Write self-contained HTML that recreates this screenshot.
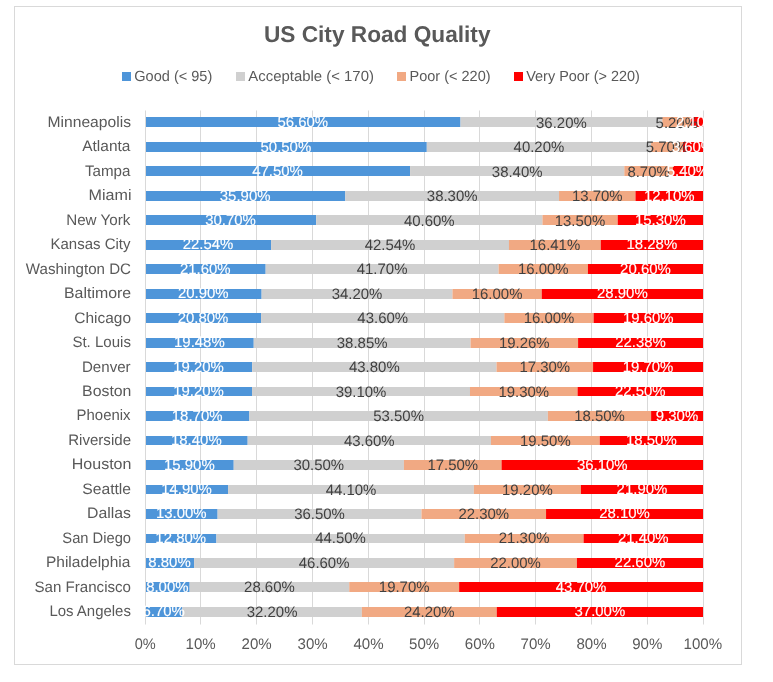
<!DOCTYPE html><html><head><meta charset="utf-8"><style>html,body{margin:0;padding:0;background:#fff;}svg{display:block;will-change:transform;}</style></head><body>
<svg width="773" height="682" viewBox="0 0 773 682" font-family='"Liberation Sans", sans-serif' text-rendering="geometricPrecision">
<rect x="14.5" y="6.5" width="727" height="658" fill="#fff" stroke="#D9D9D9" stroke-width="1"/>
<text x="263.94" y="42.00" font-size="22.8" font-weight="bold" fill="#595959" textLength="226.58" lengthAdjust="spacingAndGlyphs">US City Road Quality</text>
<rect x="122" y="72" width="9" height="9" fill="#4E95D9"/>
<text x="134.27" y="81.00" font-size="14.7" fill="#595959" textLength="78.03" lengthAdjust="spacingAndGlyphs">Good (&lt; 95)</text>
<rect x="236" y="72" width="9" height="9" fill="#D0D0D0"/>
<text x="248.37" y="81.00" font-size="14.7" fill="#595959" textLength="125.55" lengthAdjust="spacingAndGlyphs">Acceptable (&lt; 170)</text>
<rect x="397" y="72" width="9" height="9" fill="#F1A983"/>
<text x="409.51" y="81.00" font-size="14.7" fill="#595959" textLength="81.09" lengthAdjust="spacingAndGlyphs">Poor (&lt; 220)</text>
<rect x="514" y="72" width="9" height="9" fill="#FF0000"/>
<text x="526.24" y="81.00" font-size="14.7" fill="#595959" textLength="113.65" lengthAdjust="spacingAndGlyphs">Very Poor (&gt; 220)</text>
<rect x="145" y="110.5" width="1" height="514" fill="#D9D9D9"/>
<rect x="200" y="110.5" width="1" height="514" fill="#D9D9D9"/>
<rect x="256" y="110.5" width="1" height="514" fill="#D9D9D9"/>
<rect x="312" y="110.5" width="1" height="514" fill="#D9D9D9"/>
<rect x="368" y="110.5" width="1" height="514" fill="#D9D9D9"/>
<rect x="424" y="110.5" width="1" height="514" fill="#D9D9D9"/>
<rect x="479" y="110.5" width="1" height="514" fill="#D9D9D9"/>
<rect x="535" y="110.5" width="1" height="514" fill="#D9D9D9"/>
<rect x="591" y="110.5" width="1" height="514" fill="#D9D9D9"/>
<rect x="647" y="110.5" width="1" height="514" fill="#D9D9D9"/>
<rect x="703" y="110.5" width="1" height="514" fill="#D9D9D9"/>
<rect x="146.00" y="117.00" width="314.51" height="10" fill="#4E95D9"/>
<rect x="460.51" y="117.00" width="201.79" height="10" fill="#D0D0D0"/>
<rect x="662.31" y="117.00" width="28.99" height="10" fill="#F1A983"/>
<rect x="691.29" y="117.00" width="11.71" height="10" fill="#FF0000"/>
<rect x="146.00" y="142.00" width="280.79" height="10" fill="#4E95D9"/>
<rect x="426.79" y="142.00" width="224.32" height="10" fill="#D0D0D0"/>
<rect x="651.11" y="142.00" width="31.81" height="10" fill="#F1A983"/>
<rect x="682.91" y="142.00" width="20.09" height="10" fill="#FF0000"/>
<rect x="146.00" y="166.00" width="264.05" height="10" fill="#4E95D9"/>
<rect x="410.05" y="166.00" width="214.27" height="10" fill="#D0D0D0"/>
<rect x="624.32" y="166.00" width="48.55" height="10" fill="#F1A983"/>
<rect x="672.87" y="166.00" width="30.13" height="10" fill="#FF0000"/>
<rect x="146.00" y="191.00" width="199.32" height="10" fill="#4E95D9"/>
<rect x="345.32" y="191.00" width="213.71" height="10" fill="#D0D0D0"/>
<rect x="559.04" y="191.00" width="76.45" height="10" fill="#F1A983"/>
<rect x="635.48" y="191.00" width="67.52" height="10" fill="#FF0000"/>
<rect x="146.00" y="215.00" width="170.13" height="10" fill="#4E95D9"/>
<rect x="316.13" y="215.00" width="226.32" height="10" fill="#D0D0D0"/>
<rect x="542.46" y="215.00" width="75.25" height="10" fill="#F1A983"/>
<rect x="617.71" y="215.00" width="85.29" height="10" fill="#FF0000"/>
<rect x="146.00" y="240.00" width="125.06" height="10" fill="#4E95D9"/>
<rect x="271.06" y="240.00" width="237.92" height="10" fill="#D0D0D0"/>
<rect x="508.98" y="240.00" width="91.78" height="10" fill="#F1A983"/>
<rect x="600.76" y="240.00" width="102.24" height="10" fill="#FF0000"/>
<rect x="146.00" y="264.00" width="119.65" height="10" fill="#4E95D9"/>
<rect x="265.65" y="264.00" width="232.92" height="10" fill="#D0D0D0"/>
<rect x="498.57" y="264.00" width="89.37" height="10" fill="#F1A983"/>
<rect x="587.94" y="264.00" width="115.06" height="10" fill="#FF0000"/>
<rect x="146.00" y="289.00" width="115.62" height="10" fill="#4E95D9"/>
<rect x="261.62" y="289.00" width="190.84" height="10" fill="#D0D0D0"/>
<rect x="452.46" y="289.00" width="89.28" height="10" fill="#F1A983"/>
<rect x="541.74" y="289.00" width="161.26" height="10" fill="#FF0000"/>
<rect x="146.00" y="313.00" width="115.06" height="10" fill="#4E95D9"/>
<rect x="261.06" y="313.00" width="243.29" height="10" fill="#D0D0D0"/>
<rect x="504.35" y="313.00" width="89.28" height="10" fill="#F1A983"/>
<rect x="593.63" y="313.00" width="109.37" height="10" fill="#FF0000"/>
<rect x="146.00" y="338.00" width="107.73" height="10" fill="#4E95D9"/>
<rect x="253.73" y="338.00" width="216.85" height="10" fill="#D0D0D0"/>
<rect x="470.58" y="338.00" width="107.50" height="10" fill="#F1A983"/>
<rect x="578.08" y="338.00" width="124.92" height="10" fill="#FF0000"/>
<rect x="146.00" y="362.00" width="106.14" height="10" fill="#4E95D9"/>
<rect x="252.14" y="362.00" width="244.40" height="10" fill="#D0D0D0"/>
<rect x="496.54" y="362.00" width="96.53" height="10" fill="#F1A983"/>
<rect x="593.07" y="362.00" width="109.93" height="10" fill="#FF0000"/>
<rect x="146.00" y="387.00" width="106.03" height="9" fill="#4E95D9"/>
<rect x="252.03" y="387.00" width="217.96" height="9" fill="#D0D0D0"/>
<rect x="469.99" y="387.00" width="107.59" height="9" fill="#F1A983"/>
<rect x="577.58" y="387.00" width="125.42" height="9" fill="#FF0000"/>
<rect x="146.00" y="411.00" width="103.35" height="10" fill="#4E95D9"/>
<rect x="249.35" y="411.00" width="298.53" height="10" fill="#D0D0D0"/>
<rect x="547.88" y="411.00" width="103.23" height="10" fill="#F1A983"/>
<rect x="651.11" y="411.00" width="51.89" height="10" fill="#FF0000"/>
<rect x="146.00" y="436.00" width="101.67" height="9" fill="#4E95D9"/>
<rect x="247.67" y="436.00" width="243.29" height="9" fill="#D0D0D0"/>
<rect x="490.96" y="436.00" width="108.81" height="9" fill="#F1A983"/>
<rect x="599.77" y="436.00" width="103.23" height="9" fill="#FF0000"/>
<rect x="146.00" y="460.00" width="87.72" height="10" fill="#4E95D9"/>
<rect x="233.72" y="460.00" width="170.19" height="10" fill="#D0D0D0"/>
<rect x="403.91" y="460.00" width="97.65" height="10" fill="#F1A983"/>
<rect x="501.56" y="460.00" width="201.44" height="10" fill="#FF0000"/>
<rect x="146.00" y="485.00" width="82.06" height="9" fill="#4E95D9"/>
<rect x="228.06" y="485.00" width="245.83" height="9" fill="#D0D0D0"/>
<rect x="473.89" y="485.00" width="107.03" height="9" fill="#F1A983"/>
<rect x="580.92" y="485.00" width="122.08" height="9" fill="#FF0000"/>
<rect x="146.00" y="509.00" width="71.61" height="10" fill="#4E95D9"/>
<rect x="217.61" y="509.00" width="203.87" height="10" fill="#D0D0D0"/>
<rect x="421.49" y="509.00" width="124.56" height="10" fill="#F1A983"/>
<rect x="546.05" y="509.00" width="156.95" height="10" fill="#FF0000"/>
<rect x="146.00" y="534.00" width="70.42" height="9" fill="#4E95D9"/>
<rect x="216.42" y="534.00" width="248.31" height="9" fill="#D0D0D0"/>
<rect x="464.73" y="534.00" width="118.85" height="9" fill="#F1A983"/>
<rect x="583.59" y="534.00" width="119.41" height="9" fill="#FF0000"/>
<rect x="146.00" y="558.00" width="48.10" height="10" fill="#4E95D9"/>
<rect x="194.10" y="558.00" width="260.03" height="10" fill="#D0D0D0"/>
<rect x="454.13" y="558.00" width="122.76" height="10" fill="#F1A983"/>
<rect x="576.89" y="558.00" width="126.11" height="10" fill="#FF0000"/>
<rect x="146.00" y="582.00" width="43.64" height="10" fill="#4E95D9"/>
<rect x="189.64" y="582.00" width="159.59" height="10" fill="#D0D0D0"/>
<rect x="349.23" y="582.00" width="109.93" height="10" fill="#F1A983"/>
<rect x="459.15" y="582.00" width="243.85" height="10" fill="#FF0000"/>
<rect x="146.00" y="607.00" width="36.35" height="10" fill="#4E95D9"/>
<rect x="182.35" y="607.00" width="179.50" height="10" fill="#D0D0D0"/>
<rect x="361.85" y="607.00" width="134.90" height="10" fill="#F1A983"/>
<rect x="496.75" y="607.00" width="206.25" height="10" fill="#FF0000"/>
<text x="302.76" y="127.20" text-anchor="middle" font-size="15.1" fill="#FFFFFF" stroke="#FFFFFF" stroke-width="0.15" textLength="50.70" lengthAdjust="spacingAndGlyphs">56.60%</text>
<text x="561.41" y="127.70" text-anchor="middle" font-size="15.1" fill="#404040" stroke="#404040" stroke-width="0" textLength="50.70" lengthAdjust="spacingAndGlyphs">36.20%</text>
<text x="676.80" y="127.70" text-anchor="middle" font-size="15.1" fill="#404040" stroke="#404040" stroke-width="0" textLength="42.39" lengthAdjust="spacingAndGlyphs">5.20%</text>
<text x="697.15" y="127.20" text-anchor="middle" font-size="15.1" fill="#FFFFFF" stroke="#FFFFFF" stroke-width="0.15" textLength="42.39" lengthAdjust="spacingAndGlyphs">2.10%</text>
<text x="285.89" y="151.66" text-anchor="middle" font-size="15.1" fill="#FFFFFF" stroke="#FFFFFF" stroke-width="0.15" textLength="50.70" lengthAdjust="spacingAndGlyphs">50.50%</text>
<text x="538.95" y="152.16" text-anchor="middle" font-size="15.1" fill="#404040" stroke="#404040" stroke-width="0" textLength="50.70" lengthAdjust="spacingAndGlyphs">40.20%</text>
<text x="667.01" y="152.16" text-anchor="middle" font-size="15.1" fill="#404040" stroke="#404040" stroke-width="0" textLength="42.39" lengthAdjust="spacingAndGlyphs">5.70%</text>
<text x="692.96" y="151.66" text-anchor="middle" font-size="15.1" fill="#FFFFFF" stroke="#FFFFFF" stroke-width="0.15" textLength="42.39" lengthAdjust="spacingAndGlyphs">3.60%</text>
<text x="277.52" y="176.11" text-anchor="middle" font-size="15.1" fill="#FFFFFF" stroke="#FFFFFF" stroke-width="0.15" textLength="50.70" lengthAdjust="spacingAndGlyphs">47.50%</text>
<text x="517.19" y="176.61" text-anchor="middle" font-size="15.1" fill="#404040" stroke="#404040" stroke-width="0" textLength="50.70" lengthAdjust="spacingAndGlyphs">38.40%</text>
<text x="648.60" y="176.61" text-anchor="middle" font-size="15.1" fill="#404040" stroke="#404040" stroke-width="0" textLength="42.39" lengthAdjust="spacingAndGlyphs">8.70%</text>
<text x="687.93" y="176.11" text-anchor="middle" font-size="15.1" fill="#FFFFFF" stroke="#FFFFFF" stroke-width="0.15" textLength="42.39" lengthAdjust="spacingAndGlyphs">5.40%</text>
<text x="245.16" y="200.56" text-anchor="middle" font-size="15.1" fill="#FFFFFF" stroke="#FFFFFF" stroke-width="0.15" textLength="50.70" lengthAdjust="spacingAndGlyphs">35.90%</text>
<text x="452.18" y="201.06" text-anchor="middle" font-size="15.1" fill="#404040" stroke="#404040" stroke-width="0" textLength="50.70" lengthAdjust="spacingAndGlyphs">38.30%</text>
<text x="597.26" y="201.06" text-anchor="middle" font-size="15.1" fill="#404040" stroke="#404040" stroke-width="0" textLength="50.70" lengthAdjust="spacingAndGlyphs">13.70%</text>
<text x="669.24" y="200.56" text-anchor="middle" font-size="15.1" fill="#FFFFFF" stroke="#FFFFFF" stroke-width="0.15" textLength="50.70" lengthAdjust="spacingAndGlyphs">12.10%</text>
<text x="230.57" y="225.02" text-anchor="middle" font-size="15.1" fill="#FFFFFF" stroke="#FFFFFF" stroke-width="0.15" textLength="50.70" lengthAdjust="spacingAndGlyphs">30.70%</text>
<text x="429.30" y="225.52" text-anchor="middle" font-size="15.1" fill="#404040" stroke="#404040" stroke-width="0" textLength="50.70" lengthAdjust="spacingAndGlyphs">40.60%</text>
<text x="580.08" y="225.52" text-anchor="middle" font-size="15.1" fill="#404040" stroke="#404040" stroke-width="0" textLength="50.70" lengthAdjust="spacingAndGlyphs">13.50%</text>
<text x="660.36" y="225.02" text-anchor="middle" font-size="15.1" fill="#FFFFFF" stroke="#FFFFFF" stroke-width="0.15" textLength="50.70" lengthAdjust="spacingAndGlyphs">15.30%</text>
<text x="208.03" y="249.47" text-anchor="middle" font-size="15.1" fill="#FFFFFF" stroke="#FFFFFF" stroke-width="0.15" textLength="50.70" lengthAdjust="spacingAndGlyphs">22.54%</text>
<text x="390.02" y="249.97" text-anchor="middle" font-size="15.1" fill="#404040" stroke="#404040" stroke-width="0" textLength="50.70" lengthAdjust="spacingAndGlyphs">42.54%</text>
<text x="554.87" y="249.97" text-anchor="middle" font-size="15.1" fill="#404040" stroke="#404040" stroke-width="0" textLength="50.70" lengthAdjust="spacingAndGlyphs">16.41%</text>
<text x="651.88" y="249.47" text-anchor="middle" font-size="15.1" fill="#FFFFFF" stroke="#FFFFFF" stroke-width="0.15" textLength="50.70" lengthAdjust="spacingAndGlyphs">18.28%</text>
<text x="205.32" y="273.93" text-anchor="middle" font-size="15.1" fill="#FFFFFF" stroke="#FFFFFF" stroke-width="0.15" textLength="50.70" lengthAdjust="spacingAndGlyphs">21.60%</text>
<text x="382.11" y="274.43" text-anchor="middle" font-size="15.1" fill="#404040" stroke="#404040" stroke-width="0" textLength="50.70" lengthAdjust="spacingAndGlyphs">41.70%</text>
<text x="543.25" y="274.43" text-anchor="middle" font-size="15.1" fill="#404040" stroke="#404040" stroke-width="0" textLength="50.70" lengthAdjust="spacingAndGlyphs">16.00%</text>
<text x="645.47" y="273.93" text-anchor="middle" font-size="15.1" fill="#FFFFFF" stroke="#FFFFFF" stroke-width="0.15" textLength="50.70" lengthAdjust="spacingAndGlyphs">20.60%</text>
<text x="203.31" y="298.38" text-anchor="middle" font-size="15.1" fill="#FFFFFF" stroke="#FFFFFF" stroke-width="0.15" textLength="50.70" lengthAdjust="spacingAndGlyphs">20.90%</text>
<text x="357.04" y="298.88" text-anchor="middle" font-size="15.1" fill="#404040" stroke="#404040" stroke-width="0" textLength="50.70" lengthAdjust="spacingAndGlyphs">34.20%</text>
<text x="497.10" y="298.88" text-anchor="middle" font-size="15.1" fill="#404040" stroke="#404040" stroke-width="0" textLength="50.70" lengthAdjust="spacingAndGlyphs">16.00%</text>
<text x="622.37" y="298.38" text-anchor="middle" font-size="15.1" fill="#FFFFFF" stroke="#FFFFFF" stroke-width="0.15" textLength="50.70" lengthAdjust="spacingAndGlyphs">28.90%</text>
<text x="203.03" y="322.84" text-anchor="middle" font-size="15.1" fill="#FFFFFF" stroke="#FFFFFF" stroke-width="0.15" textLength="50.70" lengthAdjust="spacingAndGlyphs">20.80%</text>
<text x="382.71" y="323.34" text-anchor="middle" font-size="15.1" fill="#404040" stroke="#404040" stroke-width="0" textLength="50.70" lengthAdjust="spacingAndGlyphs">43.60%</text>
<text x="548.99" y="323.34" text-anchor="middle" font-size="15.1" fill="#404040" stroke="#404040" stroke-width="0" textLength="50.70" lengthAdjust="spacingAndGlyphs">16.00%</text>
<text x="648.32" y="322.84" text-anchor="middle" font-size="15.1" fill="#FFFFFF" stroke="#FFFFFF" stroke-width="0.15" textLength="50.70" lengthAdjust="spacingAndGlyphs">19.60%</text>
<text x="199.37" y="347.29" text-anchor="middle" font-size="15.1" fill="#FFFFFF" stroke="#FFFFFF" stroke-width="0.15" textLength="50.70" lengthAdjust="spacingAndGlyphs">19.48%</text>
<text x="362.16" y="347.79" text-anchor="middle" font-size="15.1" fill="#404040" stroke="#404040" stroke-width="0" textLength="50.70" lengthAdjust="spacingAndGlyphs">38.85%</text>
<text x="524.33" y="347.79" text-anchor="middle" font-size="15.1" fill="#404040" stroke="#404040" stroke-width="0" textLength="50.70" lengthAdjust="spacingAndGlyphs">19.26%</text>
<text x="640.54" y="347.29" text-anchor="middle" font-size="15.1" fill="#FFFFFF" stroke="#FFFFFF" stroke-width="0.15" textLength="50.70" lengthAdjust="spacingAndGlyphs">22.38%</text>
<text x="198.57" y="371.75" text-anchor="middle" font-size="15.1" fill="#FFFFFF" stroke="#FFFFFF" stroke-width="0.15" textLength="50.70" lengthAdjust="spacingAndGlyphs">19.20%</text>
<text x="374.34" y="372.25" text-anchor="middle" font-size="15.1" fill="#404040" stroke="#404040" stroke-width="0" textLength="50.70" lengthAdjust="spacingAndGlyphs">43.80%</text>
<text x="544.81" y="372.25" text-anchor="middle" font-size="15.1" fill="#404040" stroke="#404040" stroke-width="0" textLength="50.70" lengthAdjust="spacingAndGlyphs">17.30%</text>
<text x="648.04" y="371.75" text-anchor="middle" font-size="15.1" fill="#FFFFFF" stroke="#FFFFFF" stroke-width="0.15" textLength="50.70" lengthAdjust="spacingAndGlyphs">19.70%</text>
<text x="198.51" y="396.20" text-anchor="middle" font-size="15.1" fill="#FFFFFF" stroke="#FFFFFF" stroke-width="0.15" textLength="50.70" lengthAdjust="spacingAndGlyphs">19.20%</text>
<text x="361.01" y="396.70" text-anchor="middle" font-size="15.1" fill="#404040" stroke="#404040" stroke-width="0" textLength="50.70" lengthAdjust="spacingAndGlyphs">39.10%</text>
<text x="523.78" y="396.70" text-anchor="middle" font-size="15.1" fill="#404040" stroke="#404040" stroke-width="0" textLength="50.70" lengthAdjust="spacingAndGlyphs">19.30%</text>
<text x="640.29" y="396.20" text-anchor="middle" font-size="15.1" fill="#FFFFFF" stroke="#FFFFFF" stroke-width="0.15" textLength="50.70" lengthAdjust="spacingAndGlyphs">22.50%</text>
<text x="197.17" y="420.66" text-anchor="middle" font-size="15.1" fill="#FFFFFF" stroke="#FFFFFF" stroke-width="0.15" textLength="50.70" lengthAdjust="spacingAndGlyphs">18.70%</text>
<text x="398.61" y="421.16" text-anchor="middle" font-size="15.1" fill="#404040" stroke="#404040" stroke-width="0" textLength="50.70" lengthAdjust="spacingAndGlyphs">53.50%</text>
<text x="599.49" y="421.16" text-anchor="middle" font-size="15.1" fill="#404040" stroke="#404040" stroke-width="0" textLength="50.70" lengthAdjust="spacingAndGlyphs">18.50%</text>
<text x="677.05" y="420.66" text-anchor="middle" font-size="15.1" fill="#FFFFFF" stroke="#FFFFFF" stroke-width="0.15" textLength="42.39" lengthAdjust="spacingAndGlyphs">9.30%</text>
<text x="196.34" y="445.11" text-anchor="middle" font-size="15.1" fill="#FFFFFF" stroke="#FFFFFF" stroke-width="0.15" textLength="50.70" lengthAdjust="spacingAndGlyphs">18.40%</text>
<text x="369.32" y="445.61" text-anchor="middle" font-size="15.1" fill="#404040" stroke="#404040" stroke-width="0" textLength="50.70" lengthAdjust="spacingAndGlyphs">43.60%</text>
<text x="545.37" y="445.61" text-anchor="middle" font-size="15.1" fill="#404040" stroke="#404040" stroke-width="0" textLength="50.70" lengthAdjust="spacingAndGlyphs">19.50%</text>
<text x="651.38" y="445.11" text-anchor="middle" font-size="15.1" fill="#FFFFFF" stroke="#FFFFFF" stroke-width="0.15" textLength="50.70" lengthAdjust="spacingAndGlyphs">18.50%</text>
<text x="189.36" y="469.57" text-anchor="middle" font-size="15.1" fill="#FFFFFF" stroke="#FFFFFF" stroke-width="0.15" textLength="50.70" lengthAdjust="spacingAndGlyphs">15.90%</text>
<text x="318.82" y="470.07" text-anchor="middle" font-size="15.1" fill="#404040" stroke="#404040" stroke-width="0" textLength="50.70" lengthAdjust="spacingAndGlyphs">30.50%</text>
<text x="452.74" y="470.07" text-anchor="middle" font-size="15.1" fill="#404040" stroke="#404040" stroke-width="0" textLength="50.70" lengthAdjust="spacingAndGlyphs">17.50%</text>
<text x="602.28" y="469.57" text-anchor="middle" font-size="15.1" fill="#FFFFFF" stroke="#FFFFFF" stroke-width="0.15" textLength="50.70" lengthAdjust="spacingAndGlyphs">36.10%</text>
<text x="186.53" y="494.02" text-anchor="middle" font-size="15.1" fill="#FFFFFF" stroke="#FFFFFF" stroke-width="0.15" textLength="50.70" lengthAdjust="spacingAndGlyphs">14.90%</text>
<text x="350.98" y="494.52" text-anchor="middle" font-size="15.1" fill="#404040" stroke="#404040" stroke-width="0" textLength="50.70" lengthAdjust="spacingAndGlyphs">44.10%</text>
<text x="527.41" y="494.52" text-anchor="middle" font-size="15.1" fill="#404040" stroke="#404040" stroke-width="0" textLength="50.70" lengthAdjust="spacingAndGlyphs">19.20%</text>
<text x="641.96" y="494.02" text-anchor="middle" font-size="15.1" fill="#FFFFFF" stroke="#FFFFFF" stroke-width="0.15" textLength="50.70" lengthAdjust="spacingAndGlyphs">21.90%</text>
<text x="181.31" y="518.48" text-anchor="middle" font-size="15.1" fill="#FFFFFF" stroke="#FFFFFF" stroke-width="0.15" textLength="50.70" lengthAdjust="spacingAndGlyphs">13.00%</text>
<text x="319.55" y="518.98" text-anchor="middle" font-size="15.1" fill="#404040" stroke="#404040" stroke-width="0" textLength="50.70" lengthAdjust="spacingAndGlyphs">36.50%</text>
<text x="483.77" y="518.98" text-anchor="middle" font-size="15.1" fill="#404040" stroke="#404040" stroke-width="0" textLength="50.70" lengthAdjust="spacingAndGlyphs">22.30%</text>
<text x="624.52" y="518.48" text-anchor="middle" font-size="15.1" fill="#FFFFFF" stroke="#FFFFFF" stroke-width="0.15" textLength="50.70" lengthAdjust="spacingAndGlyphs">28.10%</text>
<text x="180.71" y="542.93" text-anchor="middle" font-size="15.1" fill="#FFFFFF" stroke="#FFFFFF" stroke-width="0.15" textLength="50.70" lengthAdjust="spacingAndGlyphs">12.80%</text>
<text x="340.58" y="543.43" text-anchor="middle" font-size="15.1" fill="#404040" stroke="#404040" stroke-width="0" textLength="50.70" lengthAdjust="spacingAndGlyphs">44.50%</text>
<text x="524.16" y="543.43" text-anchor="middle" font-size="15.1" fill="#404040" stroke="#404040" stroke-width="0" textLength="50.70" lengthAdjust="spacingAndGlyphs">21.30%</text>
<text x="643.29" y="542.93" text-anchor="middle" font-size="15.1" fill="#FFFFFF" stroke="#FFFFFF" stroke-width="0.15" textLength="50.70" lengthAdjust="spacingAndGlyphs">21.40%</text>
<text x="169.55" y="567.39" text-anchor="middle" font-size="15.1" fill="#FFFFFF" stroke="#FFFFFF" stroke-width="0.15" textLength="42.39" lengthAdjust="spacingAndGlyphs">8.80%</text>
<text x="324.12" y="567.89" text-anchor="middle" font-size="15.1" fill="#404040" stroke="#404040" stroke-width="0" textLength="50.70" lengthAdjust="spacingAndGlyphs">46.60%</text>
<text x="515.51" y="567.89" text-anchor="middle" font-size="15.1" fill="#404040" stroke="#404040" stroke-width="0" textLength="50.70" lengthAdjust="spacingAndGlyphs">22.00%</text>
<text x="639.95" y="567.39" text-anchor="middle" font-size="15.1" fill="#FFFFFF" stroke="#FFFFFF" stroke-width="0.15" textLength="50.70" lengthAdjust="spacingAndGlyphs">22.60%</text>
<text x="167.32" y="591.85" text-anchor="middle" font-size="15.1" fill="#FFFFFF" stroke="#FFFFFF" stroke-width="0.15" textLength="42.39" lengthAdjust="spacingAndGlyphs">8.00%</text>
<text x="269.43" y="592.35" text-anchor="middle" font-size="15.1" fill="#404040" stroke="#404040" stroke-width="0" textLength="50.70" lengthAdjust="spacingAndGlyphs">28.60%</text>
<text x="404.19" y="592.35" text-anchor="middle" font-size="15.1" fill="#404040" stroke="#404040" stroke-width="0" textLength="50.70" lengthAdjust="spacingAndGlyphs">19.70%</text>
<text x="581.08" y="591.85" text-anchor="middle" font-size="15.1" fill="#FFFFFF" stroke="#FFFFFF" stroke-width="0.15" textLength="50.70" lengthAdjust="spacingAndGlyphs">43.70%</text>
<text x="163.67" y="616.30" text-anchor="middle" font-size="15.1" fill="#FFFFFF" stroke="#FFFFFF" stroke-width="0.15" textLength="42.39" lengthAdjust="spacingAndGlyphs">6.70%</text>
<text x="272.10" y="616.80" text-anchor="middle" font-size="15.1" fill="#404040" stroke="#404040" stroke-width="0" textLength="50.70" lengthAdjust="spacingAndGlyphs">32.20%</text>
<text x="429.30" y="616.80" text-anchor="middle" font-size="15.1" fill="#404040" stroke="#404040" stroke-width="0" textLength="50.70" lengthAdjust="spacingAndGlyphs">24.20%</text>
<text x="599.87" y="616.30" text-anchor="middle" font-size="15.1" fill="#FFFFFF" stroke="#FFFFFF" stroke-width="0.15" textLength="50.70" lengthAdjust="spacingAndGlyphs">37.00%</text>
<text x="47.52" y="126.80" font-size="15.2" fill="#595959" textLength="83.45" lengthAdjust="spacingAndGlyphs">Minneapolis</text>
<text x="82.27" y="151.27" font-size="15.2" fill="#595959" textLength="48.13" lengthAdjust="spacingAndGlyphs">Atlanta</text>
<text x="84.97" y="175.74" font-size="15.2" fill="#595959" textLength="45.43" lengthAdjust="spacingAndGlyphs">Tampa</text>
<text x="88.58" y="200.21" font-size="15.2" fill="#595959" textLength="42.90" lengthAdjust="spacingAndGlyphs">Miami</text>
<text x="66.19" y="224.68" font-size="15.2" fill="#595959" textLength="64.19" lengthAdjust="spacingAndGlyphs">New York</text>
<text x="50.57" y="249.15" font-size="15.2" fill="#595959" textLength="79.86" lengthAdjust="spacingAndGlyphs">Kansas City</text>
<text x="25.83" y="273.62" font-size="15.2" fill="#595959" textLength="105.14" lengthAdjust="spacingAndGlyphs">Washington DC</text>
<text x="64.00" y="298.09" font-size="15.2" fill="#595959" textLength="67.11" lengthAdjust="spacingAndGlyphs">Baltimore</text>
<text x="74.31" y="322.56" font-size="15.2" fill="#595959" textLength="56.73" lengthAdjust="spacingAndGlyphs">Chicago</text>
<text x="72.42" y="347.03" font-size="15.2" fill="#595959" textLength="58.53" lengthAdjust="spacingAndGlyphs">St. Louis</text>
<text x="81.96" y="371.50" font-size="15.2" fill="#595959" textLength="48.69" lengthAdjust="spacingAndGlyphs">Denver</text>
<text x="82.10" y="395.97" font-size="15.2" fill="#595959" textLength="49.33" lengthAdjust="spacingAndGlyphs">Boston</text>
<text x="76.57" y="420.44" font-size="15.2" fill="#595959" textLength="53.99" lengthAdjust="spacingAndGlyphs">Phoenix</text>
<text x="68.16" y="444.91" font-size="15.2" fill="#595959" textLength="62.91" lengthAdjust="spacingAndGlyphs">Riverside</text>
<text x="71.79" y="469.38" font-size="15.2" fill="#595959" textLength="59.65" lengthAdjust="spacingAndGlyphs">Houston</text>
<text x="82.19" y="493.85" font-size="15.2" fill="#595959" textLength="48.91" lengthAdjust="spacingAndGlyphs">Seattle</text>
<text x="87.00" y="518.32" font-size="15.2" fill="#595959" textLength="43.97" lengthAdjust="spacingAndGlyphs">Dallas</text>
<text x="62.33" y="542.79" font-size="15.2" fill="#595959" textLength="68.69" lengthAdjust="spacingAndGlyphs">San Diego</text>
<text x="45.93" y="567.26" font-size="15.2" fill="#595959" textLength="84.47" lengthAdjust="spacingAndGlyphs">Philadelphia</text>
<text x="34.41" y="591.73" font-size="15.2" fill="#595959" textLength="96.62" lengthAdjust="spacingAndGlyphs">San Francisco</text>
<text x="49.38" y="616.20" font-size="15.2" fill="#595959" textLength="81.55" lengthAdjust="spacingAndGlyphs">Los Angeles</text>
<text x="134.67" y="649.10" font-size="15.3" fill="#595959" textLength="21.01" lengthAdjust="spacingAndGlyphs">0%</text>
<text x="185.61" y="649.10" font-size="15.3" fill="#595959" textLength="30.16" lengthAdjust="spacingAndGlyphs">10%</text>
<text x="241.61" y="649.10" font-size="15.3" fill="#595959" textLength="30.16" lengthAdjust="spacingAndGlyphs">20%</text>
<text x="297.50" y="649.10" font-size="15.3" fill="#595959" textLength="30.16" lengthAdjust="spacingAndGlyphs">30%</text>
<text x="353.41" y="649.10" font-size="15.3" fill="#595959" textLength="30.16" lengthAdjust="spacingAndGlyphs">40%</text>
<text x="409.09" y="649.10" font-size="15.3" fill="#595959" textLength="30.16" lengthAdjust="spacingAndGlyphs">50%</text>
<text x="464.80" y="649.10" font-size="15.3" fill="#595959" textLength="30.16" lengthAdjust="spacingAndGlyphs">60%</text>
<text x="520.60" y="649.10" font-size="15.3" fill="#595959" textLength="30.16" lengthAdjust="spacingAndGlyphs">70%</text>
<text x="576.46" y="649.10" font-size="15.3" fill="#595959" textLength="30.16" lengthAdjust="spacingAndGlyphs">80%</text>
<text x="632.23" y="649.10" font-size="15.3" fill="#595959" textLength="30.16" lengthAdjust="spacingAndGlyphs">90%</text>
<text x="683.62" y="649.10" font-size="15.3" fill="#595959" textLength="38.54" lengthAdjust="spacingAndGlyphs">100%</text>
</svg></body></html>
